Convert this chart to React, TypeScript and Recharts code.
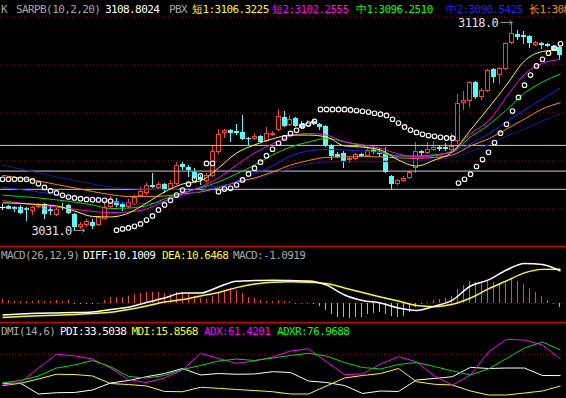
import React from "react";
import {
  Bar,
  ComposedChart,
  Line,
  ReferenceDot,
  ReferenceLine,
  Scatter,
  XAxis,
  YAxis,
} from "recharts";

// ---- price candles (one per bar, 94 bars) ----
const opens = [
  3040.7, 3041.2, 3041.0, 3040.7, 3040.4, 3039.3, 3040.7, 3042.1, 3040.0, 3037.6,
  3041.0, 3041.5, 3037.9, 3032.6, 3033.2, 3034.6, 3033.2, 3036.0, 3040.7, 3043.5,
  3042.1, 3041.0, 3042.1, 3045.4, 3046.5, 3050.1, 3048.9, 3050.5, 3048.2, 3050.4,
  3058.8, 3057.5, 3055.6, 3053.2, 3051.5, 3053.8, 3063.8, 3071.5, 3072.9, 3072.6,
  3072.1, 3069.6, 3069.0, 3070.4, 3068.2, 3071.0, 3072.9, 3078.5, 3075.1, 3077.9,
  3075.4, 3074.6, 3076.8, 3075.4, 3074.6, 3066.5, 3062.9, 3063.5, 3060.4, 3060.7,
  3062.9, 3062.1, 3064.6, 3063.5, 3063.5, 3053.8, 3050.4, 3051.6, 3052.9, 3057.0,
  3064.0, 3063.2, 3064.6, 3066.0, 3066.0, 3064.5, 3068.5, 3084.3, 3085.1, 3092.9,
  3086.5, 3089.3, 3098.2, 3095.7, 3098.5, 3109.3, 3112.9, 3112.6, 3112.1, 3108.5,
  3109.3, 3108.7, 3107.9, 3107.4,
];
const closes = [
  3040.7, 3040.1, 3040.0, 3038.2, 3039.6, 3041.0, 3041.5, 3037.9, 3039.3, 3040.1,
  3040.6, 3038.2, 3032.4, 3033.7, 3035.1, 3032.9, 3036.5, 3040.7, 3044.3, 3041.5,
  3041.0, 3043.1, 3045.1, 3047.4, 3050.1, 3049.3, 3050.5, 3048.2, 3050.8, 3058.2,
  3057.4, 3056.2, 3052.8, 3052.1, 3054.0, 3064.2, 3071.3, 3072.9, 3071.8, 3071.5,
  3069.3, 3069.0, 3070.4, 3067.9, 3071.5, 3071.8, 3078.8, 3074.6, 3077.4, 3074.6,
  3073.8, 3076.0, 3075.7, 3074.0, 3066.5, 3062.1, 3061.8, 3059.9, 3061.3, 3062.9,
  3062.1, 3064.6, 3063.8, 3062.9, 3055.4, 3050.4, 3052.1, 3052.9, 3055.4, 3064.0,
  3063.2, 3064.9, 3065.7, 3065.1, 3064.9, 3066.3, 3084.3, 3085.4, 3092.9, 3086.5,
  3089.6, 3097.9, 3094.9, 3098.8, 3109.0, 3113.2, 3111.8, 3111.5, 3109.0, 3109.6,
  3108.2, 3107.9, 3106.2, 3104.3,
];
const highs = [
  3042.0, 3041.5, 3041.3, 3041.5, 3041.0, 3041.3, 3042.6, 3042.5, 3041.8, 3040.5,
  3042.4, 3042.0, 3038.3, 3034.6, 3036.0, 3035.8, 3037.0, 3042.5, 3045.3, 3044.5,
  3043.0, 3044.0, 3045.8, 3049.0, 3051.0, 3054.9, 3051.2, 3051.0, 3052.1, 3059.6,
  3059.6, 3058.2, 3057.0, 3054.2, 3054.8, 3066.7, 3073.3, 3073.3, 3073.3, 3075.4,
  3079.0, 3070.0, 3071.5, 3070.8, 3074.3, 3072.5, 3081.7, 3080.8, 3079.2, 3078.3,
  3076.5, 3076.9, 3077.6, 3076.0, 3075.0, 3067.0, 3063.8, 3064.0, 3061.8, 3063.5,
  3063.3, 3066.3, 3066.0, 3065.4, 3065.8, 3054.2, 3052.6, 3053.8, 3056.2, 3067.9,
  3064.5, 3067.9, 3068.3, 3066.5, 3067.4, 3071.8, 3087.9, 3089.2, 3093.3, 3093.3,
  3090.4, 3098.3, 3098.6, 3099.2, 3109.4, 3118.0, 3114.6, 3114.0, 3112.5, 3110.0,
  3109.7, 3109.1, 3108.3, 3107.8,
];
const lows = [
  3039.6, 3039.8, 3038.8, 3037.8, 3035.1, 3037.5, 3040.5, 3036.0, 3037.4, 3037.0,
  3039.6, 3037.8, 3031.0, 3031.8, 3032.5, 3031.8, 3032.8, 3035.7, 3040.3, 3041.0,
  3039.3, 3040.5, 3041.7, 3044.9, 3046.0, 3048.8, 3048.5, 3046.5, 3047.8, 3050.0,
  3056.2, 3053.5, 3052.3, 3050.0, 3051.0, 3053.2, 3063.0, 3069.5, 3067.9, 3071.0,
  3068.9, 3066.6, 3068.6, 3067.5, 3067.8, 3070.5, 3072.5, 3074.2, 3074.7, 3074.2,
  3073.3, 3074.2, 3075.2, 3073.0, 3066.0, 3060.4, 3061.2, 3057.1, 3059.0, 3060.3,
  3061.5, 3061.7, 3062.8, 3061.7, 3055.0, 3048.5, 3049.9, 3051.2, 3052.5, 3054.9,
  3062.5, 3062.8, 3064.2, 3064.2, 3064.0, 3064.0, 3067.0, 3081.3, 3082.5, 3086.0,
  3085.5, 3088.8, 3092.5, 3092.1, 3098.1, 3108.8, 3110.5, 3108.8, 3107.2, 3107.9,
  3106.7, 3107.3, 3105.8, 3102.0,
];

// SARPB stop-and-reverse dots
const sar = [
  3052.4, 3052.4, 3052.4, 3052.4, 3052.4, 3051.7, 3050.5, 3049.0, 3047.6, 3046.7,
  3045.7, 3045.0, 3044.6, 3044.3, 3044.0, 3043.9, 3043.8, 3043.6, 3043.3, 3031.2,
  3031.7, 3032.1, 3032.8, 3033.8, 3035.4, 3037.1, 3039.6, 3041.7, 3043.6, 3045.8,
  3047.9, 3050.4, 3052.4, 3053.8, 3059.0, 3059.0, 3047.2, 3048.3, 3048.6, 3050.0,
  3052.1, 3054.6, 3057.0, 3059.5, 3062.2, 3064.9, 3067.4, 3069.6, 3071.5, 3072.8,
  3074.6, 3075.4, 3076.5, 3081.5, 3081.5, 3081.5, 3081.5, 3081.5, 3081.3, 3081.0,
  3080.7, 3080.4, 3079.9, 3079.5, 3079.0, 3077.4, 3075.8, 3074.2, 3072.9, 3071.9,
  3071.1, 3070.6, 3070.3, 3069.9, 3069.6, 3069.5, 3050.8, 3052.4, 3054.5, 3057.7,
  3060.6, 3063.6, 3067.7, 3071.6, 3075.3, 3080.8, 3086.5, 3091.6, 3095.8, 3099.6,
  3102.4, 3104.9, 3107.0, 3108.8,
];

// PBX lines, read every 3rd bar (bars 0, 3, 6 ... 93)
const SAMPLE_STEP = 3;
const short1 = [
  3042.6, 3042.3, 3041.9, 3041.3, 3039.2, 3036.9, 3036.7, 3038.3, 3042.5, 3047.1,
  3050.4, 3051.7, 3057.1, 3063.3, 3066.7, 3069.2, 3070.8, 3070.8, 3070.0, 3066.3,
  3065.8, 3064.6, 3060.4, 3057.9, 3060.4, 3063.8, 3072.9, 3082.1, 3091.7, 3101.7,
  3105.6, 3106.3,
];
const short2 = [
  3043.5, 3042.5, 3041.5, 3040.8, 3039.9, 3039.0, 3038.5, 3038.8, 3040.0, 3043.3,
  3046.3, 3049.2, 3052.9, 3058.3, 3063.3, 3067.1, 3070.4, 3071.5, 3070.8, 3068.0,
  3066.8, 3065.3, 3062.9, 3061.8, 3062.3, 3064.2, 3071.3, 3076.7, 3086.7, 3096.1,
  3100.7, 3102.3,
];
const mid1 = [
  3045.8, 3045.2, 3044.6, 3043.8, 3042.9, 3041.7, 3040.2, 3040.4, 3041.3, 3044.2,
  3046.7, 3048.8, 3051.3, 3054.6, 3058.3, 3062.5, 3065.8, 3067.9, 3069.4, 3068.0,
  3066.3, 3063.9, 3062.1, 3062.1, 3062.6, 3063.9, 3070.0, 3075.0, 3081.3, 3088.3,
  3092.9, 3096.3,
];
const mid2 = [
  3049.0, 3048.1, 3047.1, 3046.0, 3045.0, 3044.0, 3043.1, 3042.5, 3042.1, 3043.3,
  3045.4, 3047.5, 3049.2, 3051.5, 3054.8, 3057.9, 3062.1, 3064.2, 3064.8, 3064.6,
  3064.2, 3063.5, 3061.7, 3061.5, 3062.1, 3063.8, 3067.1, 3071.3, 3076.3, 3081.3,
  3085.8, 3090.5,
];
const long1 = [
  3054.0, 3052.9, 3051.7, 3050.2, 3048.8, 3047.3, 3046.0, 3045.2, 3045.2, 3045.4,
  3046.3, 3047.1, 3048.8, 3051.3, 3052.9, 3055.4, 3058.3, 3060.2, 3061.5, 3061.7,
  3061.8, 3061.7, 3061.3, 3061.1, 3061.5, 3062.5, 3066.3, 3069.2, 3073.3, 3077.5,
  3081.7, 3084.3,
];
const long2 = [
  3058.3, 3056.7, 3055.0, 3053.3, 3051.9, 3050.4, 3049.2, 3048.5, 3048.2, 3048.1,
  3048.3, 3049.0, 3049.6, 3050.8, 3052.5, 3054.6, 3057.1, 3058.8, 3059.6, 3059.7,
  3059.7, 3059.7, 3060.0, 3060.1, 3060.6, 3061.5, 3064.0, 3066.7, 3070.4, 3073.3,
  3076.7, 3079.6,
];

// MACD(26,12,9)
const macdHist = [
  1.25, 1.0, 0.8, 0.7, 0.8, 0.7, 1.0, 0.7, 0.8, 1.0, 0.8, 1.0, -0.2, -0.2, -0.1, -0.1,
  0.1, 1.0, 1.9, 2.1, 2.1, 2.4, 2.9, 3.1, 3.6, 3.4, 3.4, 3.1, 2.9, 3.4, 3.3, 2.8, 2.3,
  1.6, 1.25, 2.3, 3.4, 4.2, 4.7, 4.2, 3.1, 2.1, 1.6, 1.0, 0.7, 0.8, 1.0, 0.7, 0.7, 0.2,
  0.1, 0.1, -0.2, -0.8, -2.1, -3.3, -4.2, -4.4, -4.7, -4.4, -4.2, -3.3, -3.1, -2.6,
  -3.3, -4.0, -4.2, -4.0, -2.6, -1.25, -0.2, 0.5, 1.0, 1.35, 1.7, 2.3, 4.4, 5.7, 6.9,
  6.6, 6.25, 7.1, 6.5, 6.0, 6.9, 7.6, 7.0, 6.0, 4.9, 3.5, 2.3, 1.0, 0.2, -1.1,
];
const diff = [
  -3.66, -3.34, -3.1, -3.0, -2.9, -2.7, -1.9, -1.2, 0.25, 1.65, 3.2, 3.2, 5.1, 6.9,
  7.1, 7.2, 7.1, 7.0, 5.7, 2.6, 0.9, 0.1, -1.5, -2.25, -0.9, 1.0, 5.4, 7.3, 10.4,
  12.4, 12.1, 10.1,
];
const dea = [
  -4.4, -4.1, -3.9, -3.75, -3.5, -3.2, -2.8, -1.9, -0.85, 0.4, 1.2, 2.3, 3.4, 4.9,
  6.0, 6.6, 6.7, 6.6, 6.2, 4.8, 3.4, 2.0, 0.7, -0.7, -1.05, -0.3, 1.65, 4.5, 7.0,
  9.5, 10.6, 10.65,
];

// DMI(14,6)
const pdi = [
  20.4, 20.4, 2.2, 4.4, 4.8, 9.0, 20.9, 25.1, 31.6, 37.0, 45.5, 34.5, 37.0, 35.7,
  36.2, 40.1, 38.7, 24.3, 21.7, 16.6, 3.1, 7.3, 6.5, 26.0, 28.5, 31.6, 47.5, 45.5,
  46.3, 46.3, 33.6, 33.5,
];
const mdi = [
  16.6, 20.4, 27.7, 35.7, 35.3, 32.8, 20.0, 18.3, 15.8, 6.5, 6.1, 13.6, 11.9, 9.8,
  8.1, 6.1, 2.2, 2.2, 15.8, 29.4, 33.6, 37.0, 45.5, 23.1, 18.7, 17.5, 7.3, 0.5, 0.5,
  3.9, 7.3, 15.9,
];
const adx = [
  17.5, 21.7, 46.3, 69.8, 66.9, 61.6, 46.3, 26.8, 21.7, 29.4, 43.0, 71.3, 62.5, 54.3,
  58.2, 65.0, 75.2, 78.9, 57.0, 35.3, 36.2, 53.1, 65.5, 57.0, 32.8, 17.5, 34.5, 73.5,
  95.1, 93.9, 85.4, 61.4,
];
const adxr = [
  20.9, 25.1, 32.8, 46.3, 51.4, 59.0, 48.6, 31.9, 29.4, 33.6, 43.8, 50.6, 58.2, 61.6,
  59.1, 63.3, 67.6, 71.3, 66.7, 55.7, 47.2, 44.7, 52.3, 55.7, 48.9, 41.3, 34.5, 44.7,
  62.5, 80.3, 90.5, 77.0,
];

const dottedPrices = [3120, 3100, 3080, 3060, 3040];
const grayPrices = [3066.5, 3055.8, 3048.2];

const UP = "#ff3c3c";
const DOWN = "#54fcfc";
const HIST_DOWN = "#00ffff";
const FONT = "'DejaVu Sans Mono', 'Liberation Mono', monospace";
const X_DOMAIN: [number, number] = [-0.4167, 93.9167];

const sampled = (arr: number[], i: number) =>
  i % SAMPLE_STEP === 0 ? arr[i / SAMPLE_STEP] ?? null : null;

const mainData = opens.map((open, i) => ({
  i,
  open,
  close: closes[i],
  high: highs[i],
  low: lows[i],
  range: [lows[i], highs[i]],
  sar: sar[i],
  s1: sampled(short1, i),
  s2: sampled(short2, i),
  m1: sampled(mid1, i),
  m2: sampled(mid2, i),
  l1: sampled(long1, i),
  l2: sampled(long2, i),
}));

const macdData = macdHist.map((hist, i) => ({
  i,
  hist,
  diff: sampled(diff, i),
  dea: sampled(dea, i),
}));

const dmiData = opens.map((_, i) => ({
  i,
  pdi: sampled(pdi, i),
  mdi: sampled(mdi, i),
  adx: sampled(adx, i),
  adxr: sampled(adxr, i),
}));

function Candle(props: any) {
  const { x, y, width, height, payload } = props;
  if (x == null || !payload) return null;
  const { open, close, high, low } = payload;
  const top = Math.min(y, y + height);
  const bottom = Math.max(y, y + height);
  const k = high > low ? (bottom - top) / (high - low) : 0;
  const toY = (v: number) => top + (high - v) * k;
  const cx = Math.round(x + width / 2 - 0.5) + 0.5;
  const yo = toY(open);
  const yc = toY(close);
  const bTop = Math.round(Math.min(yo, yc));
  const bBot = Math.max(bTop + 1, Math.round(Math.max(yo, yc)));
  const wTop = Math.round(top);
  const wBot = Math.round(bottom);
  if (open === close) {
    return (
      <g>
        <line x1={cx} x2={cx} y1={wTop} y2={wBot} stroke="#ffffff" />
        <line x1={cx - 3} x2={cx + 3} y1={bTop + 0.5} y2={bTop + 0.5} stroke="#ffffff" />
      </g>
    );
  }
  if (close > open) {
    return (
      <g>
        <line x1={cx} x2={cx} y1={wTop} y2={bTop} stroke={UP} />
        <line x1={cx} x2={cx} y1={bBot} y2={wBot} stroke={UP} />
        <rect x={cx - 2} y={bTop + 0.5} width={4} height={Math.max(bBot - bTop - 1, 0)} fill="#000" stroke={UP} />
      </g>
    );
  }
  return (
    <g>
      <line x1={cx} x2={cx} y1={wTop} y2={wBot} stroke={DOWN} />
      <rect x={cx - 2.5} y={bTop} width={5} height={bBot - bTop} fill={DOWN} />
    </g>
  );
}

function SarDot(props: any) {
  const { cx, cy } = props;
  if (cx == null || cy == null) return null;
  return <circle cx={cx} cy={cy} r={2.3} fill="none" stroke="#ffffff" strokeWidth={1.1} />;
}

function HistBar(props: any) {
  const { x, y, width, height, payload } = props;
  if (x == null || !payload) return null;
  const cx = Math.round(x + width / 2 - 0.5) + 0.5;
  const t = Math.round(Math.min(y, y + height));
  const b = Math.round(Math.max(y, y + height));
  return (
    <line
      x1={cx}
      x2={cx}
      y1={t}
      y2={Math.max(b, t + 1)}
      stroke={payload.hist >= 0 ? UP : HIST_DOWN}
      strokeWidth={1}
      shapeRendering="crispEdges"
    />
  );
}

function ExtremeMark({ cx, cy, text, dx, dy, arrowFrom, arrowTo }: any) {
  const ay = Math.round(cy + dy) + 0.5;
  return (
    <g>
      <text x={cx + dx} y={cy + dy + 5} fill="#e4e4e4" fontSize={12} fontFamily={FONT} style={{ letterSpacing: "-0.5px" }}>
        {text}
      </text>
      <line x1={cx + arrowFrom} x2={cx + arrowTo} y1={ay} y2={ay} stroke="#8c8c8c" />
      <polyline points={`${cx + arrowTo - 3},${ay - 2} ${cx + arrowTo},${ay} ${cx + arrowTo - 3},${ay + 2}`} fill="none" stroke="#8c8c8c" />
    </g>
  );
}

function T({ x, y, c, children }: any) {
  return (
    <text x={x} y={y} fill={c} fontSize={11} fontFamily={FONT} style={{ letterSpacing: "-0.6px" }}>
      {children}
    </text>
  );
}

const GRAY = "#a8a8a8";

const lineProps = {
  dot: false,
  activeDot: false,
  connectNulls: true,
  isAnimationActive: false,
} as const;

export default function App() {
  return (
    <div style={{ position: "fixed", left: 0, top: 0, width: 566, height: 398, background: "#000", overflow: "hidden" }}>
      <div style={{ position: "absolute", left: 0, top: 0 }}>
        <ComposedChart width={566} height={247} data={mainData} margin={{ top: 0, right: 0, bottom: 0, left: 0 }}>
          <XAxis dataKey="i" type="number" domain={X_DOMAIN} hide allowDataOverflow />
          <YAxis type="number" domain={[3024.17, 3127.08]} hide allowDataOverflow />
          {dottedPrices.map((v) => (
            <ReferenceLine key={v} y={v} stroke="#a80000" strokeDasharray="1 2" />
          ))}
          {grayPrices.map((v) => (
            <ReferenceLine key={v} y={v} stroke="#c8c8c8" />
          ))}
          <Bar dataKey="range" barSize={5} shape={(p: any) => <Candle {...p} />} activeBar={false} isAnimationActive={false} />
          <Line dataKey="l2" type="monotone" stroke="#1c1c90" {...lineProps} />
          <Line dataKey="l1" type="monotone" stroke="#ff8c00" {...lineProps} />
          <Line dataKey="m2" type="monotone" stroke="#2020ff" {...lineProps} />
          <Line dataKey="m1" type="monotone" stroke="#00e000" {...lineProps} />
          <Line dataKey="s2" type="monotone" stroke="#ff00ff" {...lineProps} />
          <Line dataKey="s1" type="monotone" stroke="#ffff00" {...lineProps} />
          <Scatter dataKey="sar" shape={(p: any) => <SarDot {...p} />} activeShape={(p: any) => <SarDot {...p} />} isAnimationActive={false} />
          <ReferenceDot
            x={85}
            y={3118.0}
            shape={(p: any) => <ExtremeMark {...p} text="3118.0" dx={-54.5} dy={0.5} arrowFrom={-12} arrowTo={0} />}
          />
          <ReferenceDot
            x={12}
            y={3031.0}
            shape={(p: any) => <ExtremeMark {...p} text="3031.0" dx={-43} dy={-0.6} arrowFrom={-1.5} arrowTo={10.5} />}
          />
        </ComposedChart>
      </div>
      <div style={{ position: "absolute", left: 0, top: 246, width: 566, height: 1, background: "#e00000" }} />

      <div style={{ position: "absolute", left: 0, top: 247 }}>
        <ComposedChart width={566} height={75} data={macdData} margin={{ top: 0, right: 0, bottom: 0, left: 0 }}>
          <XAxis dataKey="i" type="number" domain={X_DOMAIN} hide allowDataOverflow />
          <YAxis type="number" domain={[-5.84, 17.59]} hide allowDataOverflow />
          <ReferenceLine y={0} stroke="#a80000" strokeDasharray="1 2" />
          <Bar dataKey="hist" barSize={1} shape={(p: any) => <HistBar {...p} />} activeBar={false} isAnimationActive={false} />
          <Line dataKey="dea" type="monotone" stroke="#ffff00" strokeWidth={1.5} {...lineProps} />
          <Line dataKey="diff" type="monotone" stroke="#ffffff" strokeWidth={1.5} {...lineProps} />
        </ComposedChart>
      </div>
      <div style={{ position: "absolute", left: 0, top: 322, width: 566, height: 1, background: "#e00000" }} />

      <div style={{ position: "absolute", left: 0, top: 322 }}>
        <ComposedChart width={566} height={76} data={dmiData} margin={{ top: 0, right: 0, bottom: 0, left: 0 }}>
          <XAxis dataKey="i" type="number" domain={X_DOMAIN} hide allowDataOverflow />
          <YAxis type="number" domain={[-4.58, 124.45]} hide allowDataOverflow />
          <ReferenceLine y={69.8} stroke="#a80000" strokeDasharray="1 2" />
          <Line dataKey="pdi" type="linear" stroke="#ffffff" {...lineProps} />
          <Line dataKey="mdi" type="linear" stroke="#ffff00" {...lineProps} />
          <Line dataKey="adx" type="linear" stroke="#ff00ff" {...lineProps} />
          <Line dataKey="adxr" type="linear" stroke="#00e000" {...lineProps} />
        </ComposedChart>
      </div>

      <svg width={566} height={398} style={{ position: "absolute", left: 0, top: 0, pointerEvents: "none" }}>
        <T x={1} y={13} c={GRAY}>K</T>
        <T x={16} y={13} c={GRAY}>SARPB(10,2,20)</T>
        <T x={105} y={13} c="#ffffff">3108.8024</T>
        <T x={169} y={13} c={GRAY}>PBX</T>
        <T x={192} y={13} c="#ffff00">短1:3106.3225</T>
        <T x={272} y={13} c="#ff00ff">短2:3102.2555</T>
        <T x={356} y={13} c="#00ff00">中1:3096.2510</T>
        <T x={446} y={13} c="#2020ff">中2:3090.5425</T>
        <T x={529} y={13} c="#ff8c00">长1:308</T>

        <T x={1} y={259} c={GRAY}>MACD(26,12,9)</T>
        <T x={83} y={259} c="#ffffff">DIFF:10.1009</T>
        <T x={162} y={259} c="#ffff00">DEA:10.6468</T>
        <T x={233} y={259} c={GRAY}>MACD:-1.0919</T>

        <T x={1} y={335} c={GRAY}>DMI(14,6)</T>
        <T x={60} y={335} c="#ffffff">PDI:33.5038</T>
        <T x={131.5} y={335} c="#ffff00">MDI:15.8568</T>
        <T x={204} y={335} c="#ff00ff">ADX:61.4201</T>
        <T x={277} y={335} c="#00ff00">ADXR:76.9688</T>
      </svg>
    </div>
  );
}
